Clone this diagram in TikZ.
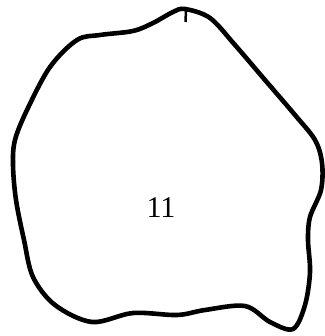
\documentclass[tikz,border=0pt]{standalone}
\usepackage{fontspec}
\setmainfont{Liberation Serif}

\begin{document}
\begin{tikzpicture}[x=1pt, y=-1pt,
		outline/.style={line width=4.6pt, line join=round, line cap=round},
		numtext/.style={font=\fontsize{30}{30}\selectfont, inner sep=0pt}]
			\useasboundingbox (0,0) rectangle (324,336);
			
			\draw[outline] plot[smooth cycle, tension=0.55] coordinates {
				(185,9) (210,18) (235,45) (265,80) (295,115) (315,140) (322,163)
				(321,190) (310,217) (308,240) (310,272) (305,305) (293,329)
				(270,322) (245,306) (205,310) (177,315) (133,313) (92,322)
				(55,305) (33,277) (24,240) (16,200) (13,165) (15,140)
				(27,110) (50,67) (77,40) (100,35) (133,31) (153,23) (173,12)};
			
			\coordinate (top) at (186,10);
			\coordinate (tick) at (185.5,22);
			\draw[line width=2.5pt] (top) -- (tick);
			
			\node[numtext] (n) at (161,208) {11};
		\end{tikzpicture}
\end{document}
